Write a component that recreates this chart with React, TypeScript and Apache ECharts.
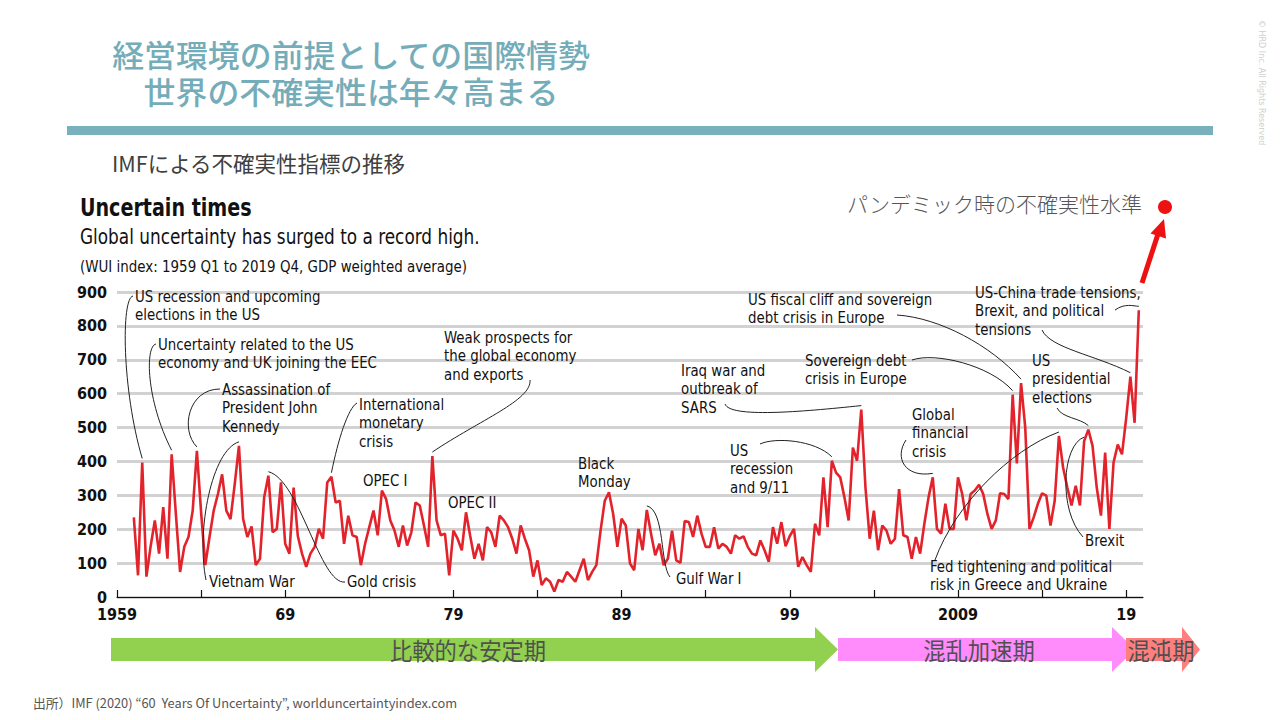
import React, { useEffect, useRef } from "react";
import * as echarts from "echarts";

// ---------- DATA ----------
const START_YEAR = 1960; // first plotted quarter (as drawn)
const wui1960s = [235, 64, 397, 60, 150, 226, 128, 265, 113, 421, 245, 74, 148, 177, 255, 431, 250, 94, 177, 255, 304, 362, 255, 230, 333, 446, 230, 177, 208, 94, 113, 294, 358, 191, 201, 338, 157, 128, 323, 180];
const wui1970s = [128, 89, 128, 148, 201, 172, 338, 355, 279, 284, 157, 240, 182, 177, 94, 157, 206, 255, 182, 314, 289, 226, 196, 148, 211, 152, 191, 279, 270, 211, 148, 416, 226, 182, 187, 64, 196, 172, 138, 250];
const wui1980s = [180, 113, 157, 108, 206, 191, 148, 240, 226, 206, 172, 128, 211, 172, 138, 60, 108, 35, 55, 45, 16, 50, 45, 74, 60, 45, 79, 113, 50, 74, 94, 196, 284, 309, 245, 148, 231, 211, 99, 79];
const wui1990s = [201, 138, 257, 187, 123, 157, 94, 113, 196, 108, 101, 224, 221, 177, 240, 187, 148, 148, 206, 143, 157, 148, 128, 182, 172, 179, 148, 128, 123, 167, 138, 104, 206, 157, 221, 150, 180, 201, 89, 118];
const wui2000s = [94, 74, 216, 182, 353, 206, 402, 367, 353, 294, 226, 441, 402, 553, 323, 172, 255, 138, 211, 196, 157, 172, 318, 182, 177, 113, 177, 128, 216, 294, 353, 201, 187, 275, 201, 201, 353, 304, 226, 304];
const wui2010s = [314, 331, 304, 245, 201, 226, 306, 304, 289, 597, 394, 631, 499, 201, 235, 275, 306, 299, 211, 284, 475, 382, 323, 270, 328, 270, 460, 494, 446, 323, 240, 426, 201, 397, 450, 421, 528, 650, 514, 846];
const WUI = [...wui1960s, ...wui1970s, ...wui1980s, ...wui1990s, ...wui2000s, ...wui2010s];

const X_MIN = 1959;
const X_MAX = 2020;
const X_TICK_YEARS = [1959, 1964, 1969, 1974, 1979, 1984, 1989, 1994, 1999, 2004, 2009, 2014, 2019];
const X_LABEL_YEARS = [1959, 1969, 1979, 1989, 1999, 2009, 2019];
const X_LABEL_TEXT = ["1959", "69", "79", "89", "99", "2009", "19"];
const Y_MAX = 900;
const Y_STEP = 100;

const TITLE_LINES = ["経営環境の前提としての国際情勢", "世界の不確実性は年々高まる"];
const PERIOD_LABELS = ["比較的な安定期", "混乱加速期", "混沌期"];
const PERIOD_COLORS = ["#92d050", "#ff8cfa", "#ff7f7f"];

const ANNOTATION_TEXTS = [
  "US recession and upcoming\nelections in the US",
  "Uncertainty related to the US\neconomy and UK joining the EEC",
  "Assassination of\nPresident John\nKennedy",
  "Vietnam War",
  "Gold crisis",
  "International\nmonetary\ncrisis",
  "OPEC I",
  "Weak prospects for\nthe global economy\nand exports",
  "OPEC II",
  "Black\nMonday",
  "Gulf War I",
  "Iraq war and\noutbreak of\nSARS",
  "US\nrecession\nand 9/11",
  "US fiscal cliff and sovereign\ndebt crisis in Europe",
  "Sovereign debt\ncrisis in Europe",
  "Global\nfinancial\ncrisis",
  "Fed tightening and political\nrisk in Greece and Ukraine",
  "US-China trade tensions,\nBrexit, and political\ntensions",
  "US\npresidential\nelections",
  "Brexit",
];
// quarter index each leader line points to
const LEADER_TARGETS = [2, 9, 15, 25, 32, 47, 71, 122, 173, 166, 211, 209, 190, 220, 239, 237, 227, 226];

// ---------- LAYOUT ----------
const NARROW = "'Liberation Sans Narrow', 'DejaVu Sans Condensed', 'Arial Narrow', 'Noto Sans', sans-serif";
const JP = "'Noto Sans CJK JP', 'Noto Sans', sans-serif";
const TEAL = "#74adb9";
const ANN_LH = 18.5;
const ANN_SCALE = 0.9;
const TITLE_Y = [53.5, 91];
// [x, first line center y]
const ANNOTATION_POS: [number, number][] = [
  [135, 296], [158, 344], [222, 389], [209, 581], [347, 581], [359, 404], [363, 480],
  [444, 337], [448, 502], [578, 463], [676, 578], [681, 370], [730, 450], [748, 299],
  [805, 360], [912, 414], [930, 566], [975, 292], [1032, 360], [1085, 540],
];
// from point, control 1, control 2 (end point = data point)
const LEADER_PATHS: number[][][] = [
  [[133, 296], [121, 298], [122, 390]],
  [[156, 344], [145, 346], [146, 400]],
  [[220, 389], [188, 389], [180, 430]],
  [[206, 580], [196, 530], [212, 450]],
  [[345, 582], [320, 585], [300, 480]],
  [[357, 403], [348, 408], [338, 440]],
  [[530, 380], [532, 400], [480, 420]],
  [[670, 577], [660, 565], [665, 510]],
  [[725, 404], [730, 418], [800, 412]],
  [[760, 444], [775, 437], [815, 440]],
  [[897, 315], [940, 318], [990, 345]],
  [[912, 360], [935, 352], [990, 365]],
  [[906, 440], [894, 458], [905, 478]],
  [[935, 560], [955, 505], [1010, 450]],
  [[1115, 310], [1125, 303], [1133, 306]],
  [[1042, 330], [1050, 348], [1095, 355]],
  [[1057, 408], [1062, 418], [1080, 418]],
  [[1083, 537], [1058, 510], [1062, 445]],
];
// [body start, head start, tip]
const PERIOD_X = [[111, 815, 838], [838, 1112, 1135], [1126, 1182, 1200]];
const PERIOD_TEXT_X = [468, 979, 1161];

function arrowPoints(xs: number, xh: number, xt: number) {
  return [[xs, 638], [xh, 638], [xh, 627], [xt, 649.5], [xh, 672], [xh, 661], [xs, 661]];
}

function txt(text: string, x: number, y: number, style: any, scaleX = 1, z = 10) {
  return { type: "text", x, y, scaleX, z, style: { text, x: 0, y: 0, ...style } };
}

export default function App() {
  const ref = useRef<HTMLDivElement>(null);

  useEffect(() => {
    document.body.style.margin = "0";
    const chart = echarts.init(ref.current!, null, { renderer: "svg" });
    const seriesData = WUI.map((v, i) => [START_YEAR + i / 4, v]);

    chart.setOption({
      animation: false,
      backgroundColor: "#ffffff",
      grid: { left: 117, right: 137, top: 292, bottom: 123 },
      xAxis: {
        type: "value",
        min: X_MIN,
        max: X_MAX,
        axisLine: { show: true, onZero: false, lineStyle: { color: "#111", width: 1.2 } },
        axisTick: { show: true, inside: true, length: 7, customValues: X_TICK_YEARS, lineStyle: { color: "#111", width: 1.2 } },
        axisLabel: {
          customValues: X_LABEL_YEARS,
          formatter: (v: number) => {
            const k = X_LABEL_YEARS.indexOf(Math.round(v));
            return k >= 0 ? X_LABEL_TEXT[k] : "";
          },
          fontFamily: NARROW,
          fontWeight: "bold",
          fontSize: 16,
          color: "#111",
          margin: 9,
        },
        splitLine: { show: false },
      },
      yAxis: {
        type: "value",
        min: 0,
        max: Y_MAX,
        interval: Y_STEP,
        axisLine: { show: false },
        axisTick: { show: false },
        axisLabel: { fontFamily: NARROW, fontWeight: "bold", fontSize: 16, color: "#111", margin: 10 },
        splitLine: { lineStyle: { color: "#d2d2d2", width: 3 } },
      },
      series: [
        {
          type: "line",
          data: seriesData,
          symbol: "none",
          lineStyle: { color: "#e3232b", width: 2.6 },
          z: 3,
        },
      ],
    });

    const g: any[] = [];
    // titles
    TITLE_LINES.forEach((t, k) => {
      g.push(txt(t, 351, TITLE_Y[k],
        { align: "center", verticalAlign: "middle", fontFamily: JP, fontSize: 31, fontWeight: 500, fill: TEAL }, 1.03));
    });
    g.push({ type: "rect", z: 10, shape: { x: 67, y: 126, width: 1146, height: 9 }, style: { fill: "#78b0bc" } });
    g.push(txt("IMFによる不確実性指標の推移", 112, 162,
      { verticalAlign: "middle", fontFamily: JP, fontSize: 21.5, fill: "#404040" }));
    g.push({
      type: "text", z: 10, rotation: -Math.PI / 2, x: 1261, y: 20,
      style: { text: "© HRD Inc. All Rights Reserved", x: 0, y: 0, align: "left", verticalAlign: "middle", fontFamily: "'DejaVu Sans', sans-serif", fontSize: 8, fill: "#cfcfcf" },
    });
    // chart headings
    g.push(txt("Uncertain times", 80, 207, { verticalAlign: "middle", fontFamily: NARROW, fontWeight: "bold", fontSize: 25, fill: "#111" }, 0.85));
    g.push(txt("Global uncertainty has surged to a record high.", 80, 237, { verticalAlign: "middle", fontFamily: NARROW, fontSize: 21, fill: "#111" }, 0.895));
    g.push(txt("(WUI index: 1959 Q1 to 2019 Q4, GDP weighted average)", 80, 266, { verticalAlign: "middle", fontFamily: NARROW, fontSize: 16.5, fill: "#111" }, 0.905));

    // annotations
    ANNOTATION_TEXTS.forEach((t, k) => {
      const [x, cy] = ANNOTATION_POS[k];
      g.push(txt(t, x, cy - ANN_LH / 2,
        { verticalAlign: "top", lineHeight: ANN_LH, fontFamily: NARROW, fontSize: 16.5, fill: "#111" }, ANN_SCALE));
    });
    LEADER_TARGETS.forEach((idx, k) => {
      const p = chart.convertToPixel({ seriesIndex: 0 }, [START_YEAR + idx / 4, WUI[idx]]) as number[];
      const [from, c1, c2] = LEADER_PATHS[k];
      g.push({
        type: "bezierCurve", z: 9,
        shape: { x1: from[0], y1: from[1], cpx1: c1[0], cpy1: c1[1], cpx2: c2[0], cpy2: c2[1], x2: p[0], y2: p[1] - 4 },
        style: { stroke: "#222", lineWidth: 1, fill: "none" },
      });
    });

    // pandemic marker
    g.push(txt("パンデミック時の不確実性水準", 1142, 203, { align: "right", verticalAlign: "middle", fontFamily: JP, fontSize: 21, fontWeight: 300, fill: "#555" }));
    g.push({ type: "circle", z: 10, shape: { cx: 1165, cy: 207, r: 7 }, style: { fill: "#ee1111" } });
    g.push({ type: "line", z: 10, shape: { x1: 1142, y1: 283, x2: 1158, y2: 234 }, style: { stroke: "#ee1111", lineWidth: 5 } });
    g.push({ type: "polygon", z: 10, shape: { points: [[1164, 219], [1150.5, 233.5], [1166, 238.5]] }, style: { fill: "#ee1111" } });

    // period arrows
    PERIOD_LABELS.forEach((label, k) => {
      const [xs, xh, xt] = PERIOD_X[k];
      g.push({ type: "polygon", z: 8 + k, shape: { points: arrowPoints(xs, xh, xt) }, style: { fill: PERIOD_COLORS[k] } });
      g.push(txt(label, PERIOD_TEXT_X[k], 649.5,
        { align: "center", verticalAlign: "middle", fontFamily: JP, fontSize: 24, fill: "#505050" }, 0.93, 12));
    });

    // source
    g.push(txt("出所）IMF (2020) “60  Years Of Uncertainty”, worlduncertaintyindex.com", 33, 702,
      { verticalAlign: "middle", fontFamily: JP, fontSize: 12.8, fill: "#555" }));

    chart.setOption({ graphic: { elements: g } });

    return () => chart.dispose();
  }, []);

  return (
    <div
      ref={ref}
      style={{ position: "absolute", left: 0, top: 0, width: 1280, height: 720, background: "#fff" }}
    />
  );
}
